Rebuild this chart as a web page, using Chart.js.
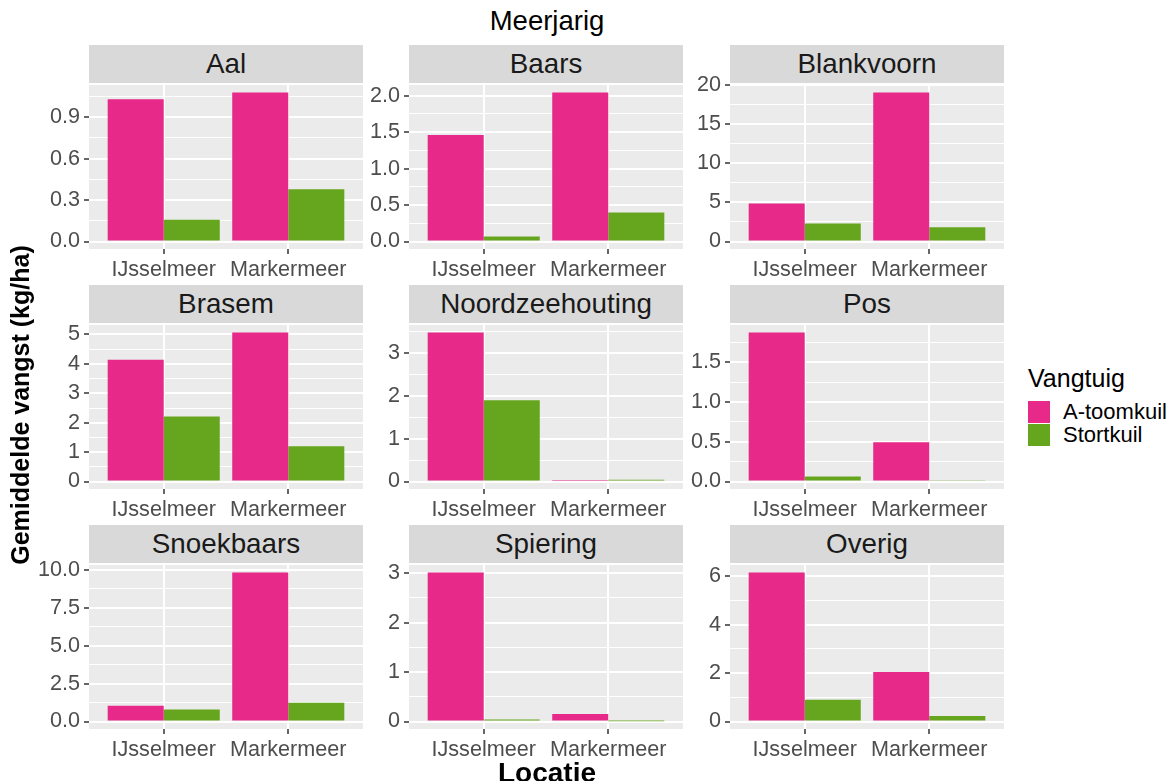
<!DOCTYPE html>
<html><head><meta charset="utf-8">
<script src="https://cdn.jsdelivr.net/npm/chart.js@4/dist/chart.umd.min.js"></script>
<style>
html,body{margin:0;padding:0;background:#fff;}
body{width:1176px;height:781px;overflow:hidden;position:relative;font-family:'Liberation Sans',Arial,sans-serif;}
.strip{position:absolute;background:#D9D9D9;color:#1A1A1A;font-size:27.8px;display:flex;align-items:center;justify-content:center;}
.txt{position:absolute;white-space:nowrap;}
canvas{position:absolute;}
</style></head><body>
<script>
// ---- data ----
const panelNames = ['Aal','Baars','Blankvoorn','Brasem','Noordzeehouting','Pos','Snoekbaars','Spiering','Overig'];
const locations = ['IJsselmeer','Markermeer'];
const seriesNames = ['A-toomkuil','Stortkuil'];
const seriesColors = ['#E7298A','#66A61E'];
const aToomkuil = [[1.03,1.079],[1.461,2.045],[4.85,19.05],[4.14,5.07],[3.49,0.01],[1.878,0.494],[1.04,9.82],[3.014,0.153],[6.16,2.05]];
const stortkuil = [[0.157,0.379],[0.068,0.399],[2.32,1.82],[2.21,1.20],[1.90,0.04],[0.062,0.017],[0.80,1.24],[0.04,0.008],[0.90,0.23]];
const tickSteps = [0.3,0.5,5,1,1,0.5,2.5,1,2];
const tickDecimals = [1,1,0,0,0,1,1,0,0];
const titleText = 'Meerjarig';
const xTitle = 'Locatie';
const yTitle = 'Gemiddelde vangst (kg/ha)';
const legendTitle = 'Vangtuig';

// ---- layout ----
const FF = "'Liberation Sans', Arial, sans-serif";
const colLeft = [89,409,730];
const rowTop = [83,323,563];
const PW = 274, PH = 166, SH = 38;
const YW = 60, XH = 40, PADT = 15, PADR = 5;

function addText(text, css){
  const d = document.createElement('div');
  d.className = 'txt';
  d.textContent = text;
  Object.assign(d.style, css);
  document.body.appendChild(d);
  return d;
}

const bgPlugin = {
  id:'panelBg',
  beforeDraw(chart){
    const a = chart.chartArea, c = chart.ctx;
    c.save(); c.fillStyle = '#EBEBEB';
    c.fillRect(a.left, a.top, a.right - a.left, a.bottom - a.top);
    c.restore();
  }
};

panelNames.forEach((name, i) => {
  const col = i % 3, row = Math.floor(i / 3);
  const L = colLeft[col], T = rowTop[row];
  const s = document.createElement('div');
  s.className = 'strip';
  s.textContent = name;
  Object.assign(s.style, {left:L+'px', top:(T-SH)+'px', width:PW+'px', height:SH+'px'});
  document.body.appendChild(s);

  const cv = document.createElement('canvas');
  const W = YW + PW + PADR, H = PADT + PH + XH;
  cv.width = W; cv.height = H;
  Object.assign(cv.style, {left:(L-YW)+'px', top:(T-PADT)+'px', width:W+'px', height:H+'px'});
  document.body.appendChild(cv);

  const M = Math.max(...aToomkuil[i], ...stortkuil[i]);
  const yMin = -0.05 * M, yMax = 1.05 * M;
  const step = tickSteps[i], dec = tickDecimals[i];
  const seriesVals = [aToomkuil[i], stortkuil[i]];

  new Chart(cv, {
    type:'bar',
    data:{
      datasets: seriesNames.map((sn, k) => ({
        label: sn,
        data: locations.map((loc, j) => ({x: j + 1, y: seriesVals[k][j]})),
        backgroundColor: seriesColors[k],
        borderWidth: 0,
        categoryPercentage: 0.9,
        barPercentage: 1.0
      }))
    },
    options:{
      responsive:false, animation:false, devicePixelRatio:1,
      layout:{padding:{top:PADT, right:PADR, left:0, bottom:0}},
      plugins:{legend:{display:false}, tooltip:{enabled:false}, title:{display:false}},
      scales:{
        x:{
          type:'linear', min:0.4, max:2.6, offset:false,
          afterBuildTicks: sc => { sc.ticks = locations.map((l, j) => ({value: j + 1})); },
          afterFit: sc => { sc.height = XH; },
          ticks:{
            callback: v => locations[Math.round(v) - 1],
            autoSkip:false, maxRotation:0, minRotation:0,
            font:{size:21.6, family:FF}, color:'#4D4D4D', padding:3
          },
          grid:{offset:false, color:'#FFFFFF', lineWidth:2, tickColor:'#333333', tickLength:5, tickWidth:1.5},
          border:{display:false}
        },
        y:{
          type:'linear', min:yMin, max:yMax,
          afterBuildTicks: sc => {
            const t = [];
            for (let k = 0; k * step / 2 <= yMax + 1e-9; k++) t.push({value: k * step / 2, gmaj: k % 2 === 0});
            sc.ticks = t;
          },
          afterFit: sc => { sc.width = YW; },
          ticks:{
            callback: (v, idx, ticks) => ticks[idx].gmaj ? Number(v).toFixed(dec) : '',
            autoSkip:false, font:{size:21.6, family:FF}, color:'#4D4D4D', padding:4
          },
          grid:{
            color:'#FFFFFF',
            lineWidth: c => (c.tick && c.tick.gmaj) ? 2 : 1,
            tickColor: c => (c.tick && c.tick.gmaj) ? '#333333' : 'rgba(0,0,0,0)',
            tickLength:5, tickWidth:1.5
          },
          border:{display:false}
        }
      }
    },
    plugins:[bgPlugin]
  });
});

// titles
addText(titleText, {left:'347px', width:'400px', textAlign:'center', top:'7px', fontSize:'27.5px', lineHeight:'27px', color:'#000'});
addText(xTitle, {left:'397px', width:'300px', textAlign:'center', top:'759px', fontSize:'28px', lineHeight:'28px', fontWeight:'bold', color:'#000'});
addText(yTitle, {left:(20-200)+'px', top:(405-15)+'px', width:'400px', height:'30px', lineHeight:'30px', textAlign:'center', fontSize:'25px', fontWeight:'bold', color:'#000', transform:'rotate(-90deg)'});

// legend
addText(legendTitle, {left:'1028px', top:'363px', fontSize:'25px', lineHeight:'30px', color:'#000'});
seriesNames.forEach((sn, k) => {
  const key = document.createElement('div');
  Object.assign(key.style, {position:'absolute', left:'1028px', top:(401 + k*23)+'px', width:'22px', height:'22px', background:seriesColors[k]});
  document.body.appendChild(key);
  addText(sn, {left:'1063px', top:(401 + k*23)+'px', fontSize:'22px', lineHeight:'22px', color:'#000'});
});
</script>
</body></html>
